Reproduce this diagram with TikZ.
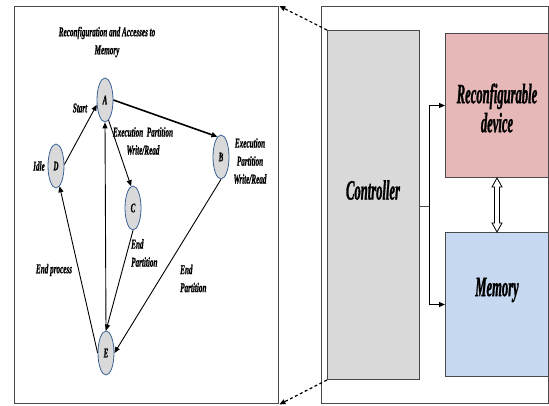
\documentclass[tikz,border=0pt]{standalone}
\usepackage{fontspec}
\newfontfamily\bigf[FakeStretch=0.45,FakeBold=1]{Liberation Serif}
\newfontfamily\smf[FakeStretch=0.53,FakeBold=0.8]{Liberation Serif}
\usetikzlibrary{shapes.geometric,arrows.meta,calc}
\definecolor{stateblue}{HTML}{3A6296}
\definecolor{stategray}{HTML}{D9D9D9}
\definecolor{framegray}{HTML}{4A4A4A}
\definecolor{devred}{HTML}{E6B8B7}
\definecolor{memblue}{HTML}{C6D9F0}
\begin{document}
\begin{tikzpicture}[x=1pt,y=-1pt,
  state/.style={ellipse,draw=stateblue,fill=stategray,line width=0.8pt,minimum width=16pt,minimum height=44pt,inner sep=0pt,font=\smf\bfseries\itshape\fontsize{13}{14}\selectfont},
  lbl/.style={font=\smf\bfseries\itshape\fontsize{13.5}{18}\selectfont,inner sep=0pt},
  big/.style={font=\bigf\bfseries\itshape\fontsize{28}{29}\selectfont,align=center,inner sep=0pt},
  arr/.style={-{Triangle[length=6pt,width=5pt]},line width=0.9pt},
  frame/.style={draw=framegray,line width=1.4pt,rectangle,inner sep=0pt,anchor=north west},
  dasharr/.style={dashed,dash pattern=on 3pt off 2.5pt,line width=1.2pt,-{Triangle[length=6pt,width=5pt]}},
]
\useasboundingbox (0,0) rectangle (549,405);
% frames
\node[frame,minimum width=264pt,minimum height=397pt] (lb) at (14,6) {};
\node[frame,minimum width=227pt,minimum height=397pt] (outer) at (321,6) {};
\node[frame,fill=stategray,line width=1pt,minimum width=92pt,minimum height=349pt] (ctrl) at (327,30) {};
\node[frame,fill=devred,line width=1pt,minimum width=103pt,minimum height=144pt] (dev) at (445,33) {};
\node[frame,fill=memblue,line width=1pt,minimum width=103pt,minimum height=144pt] (mem) at (445,232) {};
\node[big] (ctrltxt) at (373,190) {Controller};
\node[big] (devtxt) at (497,108) {Reconfigurable\\device};
\node[big] (memtxt) at (497,290) {Memory};
% controller connections
\coordinate (j) at (429,206);
\draw[line width=1pt,draw=framegray] (ctrl.east |- j) -- (j);
\draw[arr] (j) |- (dev.west);
\draw[arr] (j) |- (mem.west);
\path (dev.south) coordinate (t) (mem.north) coordinate (b);
\draw[line width=0.8pt,fill=white] (t) -- ++(5,9) -- ++(-2.5,0) -- ($(b)+(2.5,-9)$) -- ++(2.5,0) -- (b) -- ++(-5,-9) -- ++(2.5,0) -- ($(t)+(-2.5,9)$) -- ++(-2.5,0) -- cycle;
\draw[dasharr] (ctrl.north west) -- (lb.north east);
\draw[dasharr] (ctrl.south west) -- (lb.south east);
% state diagram
\node[state] (A) at (105,100) {A};
\node[state] (B) at (221,157) {B};
\node[state] (C) at (133,208) {C};
\node[state] (D) at (56,166) {D};
\node[state] (E) at (106,353) {E};
\draw[arr] (D.10) -- (A.210);
\draw[arr,line width=1.6pt] (A.east) -- (B.100);
\draw[arr] (A.-80) -- (C.95);
\draw[arr] (E.north) -- (A.south);
\draw[arr] (C.south) -- (E.north);
\draw[arr] (B.south) -- (E.east);
\draw[arr] (E.west) -- (D.-80);
% labels
\node[lbl,align=center] (title) at (107,42) {Reconfiguration and Accesses to\\Memory};
\node[lbl] (lstart) at (80,108) {Start};
\node[lbl,align=center] (lac) at (143,141) {Execution\ \ Partition\\Write/Read};
\node[lbl,align=center] (lbb) at (250,161) {Execution\\Partition\\Write/Read};
\node[lbl] (lidle) at (39,166) {Idle};
\node[lbl,align=left,anchor=west] (lce) at (131,253) {End\\Partition};
\node[lbl] (lend) at (54,270) {End process};
\node[lbl,align=left,anchor=west] (lbe) at (180,278.5) {End\\Partition};
\end{tikzpicture}
\end{document}
